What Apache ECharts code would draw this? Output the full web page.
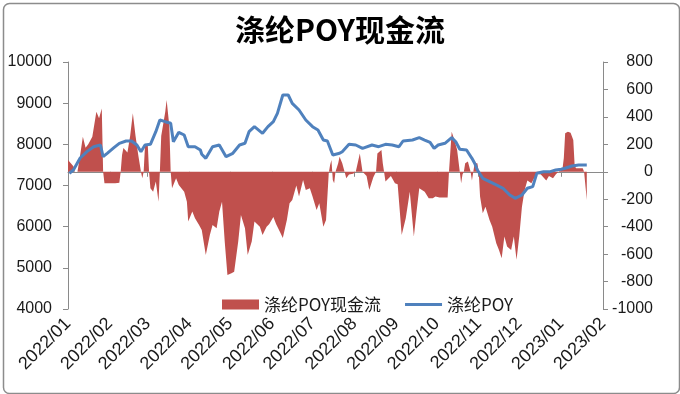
<!DOCTYPE html>
<html>
<head>
<meta charset="utf-8">
<script src="https://cdn.jsdelivr.net/npm/echarts@6/dist/echarts.min.js"></script>
<style>html,body{margin:0;padding:0;background:#fff}#c{width:680px;height:394px}</style>
</head>
<body>
<div id="c"></div>
<script>
const titleText = '涤纶POY现金流';
const seriesNames = ['涤纶POY现金流', '涤纶POY'];
const tickLabels = ['2022/01','2022/02','2022/03','2022/04','2022/05','2022/06','2022/07','2022/08','2022/09','2022/10','2022/11','2022/12','2023/01','2023/02'];

const lineDates = ['2022-01-02','2022-01-05','2022-01-10','2022-01-15','2022-01-20','2022-01-25','2022-01-27','2022-01-30',
'2022-02-04','2022-02-08','2022-02-13','2022-02-17','2022-02-21','2022-02-24','2022-02-27',
'2022-03-03','2022-03-07','2022-03-10','2022-03-14','2022-03-18','2022-03-20','2022-03-24','2022-03-28','2022-03-31',
'2022-04-05','2022-04-09','2022-04-10','2022-04-13','2022-04-18','2022-04-23','2022-04-28',
'2022-05-03','2022-05-08','2022-05-12','2022-05-15','2022-05-19','2022-05-25','2022-05-29',
'2022-06-02','2022-06-05','2022-06-09','2022-06-13','2022-06-16','2022-06-21','2022-06-26',
'2022-07-01','2022-07-05','2022-07-09','2022-07-12','2022-07-16','2022-07-21','2022-07-23','2022-07-28',
'2022-08-02','2022-08-07','2022-08-14','2022-08-19','2022-08-24','2022-08-29',
'2022-09-03','2022-09-06','2022-09-13','2022-09-18','2022-09-22','2022-09-26','2022-09-29',
'2022-10-02','2022-10-07','2022-10-12','2022-10-15','2022-10-18','2022-10-23','2022-10-27','2022-10-29','2022-10-31',
'2022-11-04','2022-11-09','2022-11-14','2022-11-19','2022-11-24','2022-11-28',
'2022-12-03','2022-12-07','2022-12-11','2022-12-14','2022-12-19','2022-12-24','2022-12-28',
'2023-01-01','2023-01-04','2023-01-09','2023-01-14','2023-01-20'];
const lineValues = [7296,7377,7668,7822,7943,7984,7700,7782,
7919,8025,8081,8081,7984,7822,7984,
8000,8307,8591,8550,8511,8064,8292,8227,7943,
7943,7862,7760,7660,7943,7984,7700,
7782,7984,8025,8307,8429,8268,8429,
8550,8753,9198,9198,8996,8834,8591,
8429,8348,8105,8081,7741,7782,7822,8000,
7984,7903,7984,7943,8000,7984,
7943,8081,8105,8162,8105,8049,7903,
7984,8025,8162,8064,7879,7862,7660,7539,7377,
7175,7094,7013,6932,6769,6689,
6769,6932,6972,7296,7336,7336,7377,
7393,7418,7474,7498,7498];

const flowDates = ['2022-01-01','2022-01-02','2022-01-05','2022-01-06','2022-01-08','2022-01-10','2022-01-12','2022-01-14','2022-01-16','2022-01-19','2022-01-22','2022-01-24','2022-01-26','2022-01-27','2022-01-28',
'2022-02-01','2022-02-05','2022-02-08','2022-02-09','2022-02-10','2022-02-11','2022-02-14','2022-02-16','2022-02-18','2022-02-20','2022-02-22','2022-02-24','2022-02-25','2022-02-26','2022-02-27',
'2022-03-01','2022-03-02','2022-03-03','2022-03-05','2022-03-07','2022-03-09','2022-03-10','2022-03-11','2022-03-14','2022-03-15','2022-03-17','2022-03-18','2022-03-19','2022-03-22','2022-03-24','2022-03-28','2022-03-30','2022-03-31',
'2022-04-03','2022-04-05','2022-04-08','2022-04-10','2022-04-13','2022-04-16','2022-04-18','2022-04-21','2022-04-23','2022-04-25','2022-04-27','2022-04-29',
'2022-05-02','2022-05-04','2022-05-07','2022-05-09','2022-05-12','2022-05-14','2022-05-17','2022-05-19','2022-05-23','2022-05-25','2022-05-28','2022-05-30',
'2022-06-02','2022-06-04','2022-06-07','2022-06-09','2022-06-12','2022-06-14','2022-06-16','2022-06-19','2022-06-21','2022-06-24','2022-06-26','2022-06-29',
'2022-07-01','2022-07-04','2022-07-06','2022-07-09','2022-07-11','2022-07-13','2022-07-14','2022-07-15','2022-07-16','2022-07-17','2022-07-18','2022-07-20','2022-07-21','2022-07-23','2022-07-26','2022-07-28','2022-07-31',
'2022-08-02','2022-08-05','2022-08-07','2022-08-10','2022-08-12','2022-08-15','2022-08-17','2022-08-18','2022-08-21','2022-08-22','2022-08-24','2022-08-28','2022-08-31',
'2022-09-02','2022-09-05','2022-09-08','2022-09-11','2022-09-14','2022-09-16','2022-09-18','2022-09-22','2022-09-25','2022-09-28','2022-09-30',
'2022-10-03','2022-10-09','2022-10-10','2022-10-12','2022-10-14','2022-10-16','2022-10-18','2022-10-19','2022-10-20','2022-10-21','2022-10-22','2022-10-24','2022-10-26','2022-10-27','2022-10-28','2022-10-29','2022-10-31',
'2022-11-01','2022-11-02','2022-11-04','2022-11-06','2022-11-09','2022-11-11','2022-11-14','2022-11-16','2022-11-18','2022-11-20','2022-11-22','2022-11-25','2022-11-27','2022-11-29',
'2022-12-01','2022-12-03','2022-12-05','2022-12-07','2022-12-10','2022-12-12','2022-12-14','2022-12-17','2022-12-21','2022-12-23','2022-12-26','2022-12-28','2022-12-30',
'2023-01-02','2023-01-03','2023-01-04','2023-01-06','2023-01-08','2023-01-10','2023-01-11','2023-01-12','2023-01-17','2023-01-18','2023-01-20'];
const flowValues = [86,80,40,0,0,122,256,175,200,256,438,390,462,0,-84,
-84,-84,-80,0,122,173,140,260,426,260,122,0,-48,0,190,
206,0,-120,-145,-70,-218,0,260,438,523,333,0,-120,-48,-96,-145,-218,-362,
-290,-339,-387,-424,-606,-460,-387,-412,-290,-218,-509,-752,
-740,-728,-509,-315,-412,-606,-509,-363,-400,-460,-400,-380,
-330,-380,-440,-482,-351,-230,-206,-100,-181,-60,-133,-120,
-181,-278,-230,-400,-351,-10,50,86,-60,-84,0,62,110,62,-48,-20,-15,
0,134,0,-30,-133,-40,0,134,158,62,-70,-30,-84,
-90,-461,-339,-145,-472,-290,-120,-145,-193,-193,-181,
-187,-187,0,292,232,160,0,-84,-20,0,62,74,0,-64,0,62,62,
0,-181,-302,-254,-351,-400,-521,-570,-630,-472,-545,-570,-472,-642,
-472,-254,-133,-64,-84,-48,-12,-20,-64,-30,-48,-20,0,
20,100,280,292,285,232,50,26,26,0,-205];

const leftAxis = {min: 4000, max: 10000, interval: 1000};
const rightAxis = {min: -1000, max: 800, interval: 200};

function toTs(s) { const p = s.split('-').map(Number); return Date.UTC(p[0], p[1] - 1, p[2]); }
const monthTicks = tickLabels.map(l => { const p = l.split('/').map(Number); return Date.UTC(p[0], p[1] - 1, 1); });

const lineData = lineDates.map((d, i) => [toTs(d), lineValues[i]]);
const flowData = flowDates.map((d, i) => [toTs(d), flowValues[i]]);

const axisGray = '#8a8a8a';
const txt = '#1a1a1a';
const numFont = '"Liberation Sans", Arial, sans-serif';
const plain = v => String(v);
const chart = echarts.init(document.getElementById('c'), null, {renderer: 'canvas'});
chart.setOption({
  animation: false,
  backgroundColor: '#fff',
  title: {
    text: titleText, left: 'center', top: 10,
    textStyle: {fontSize: 30, fontWeight: 'bold', color: '#000', fontFamily: '"Noto Sans CJK SC", sans-serif'}
  },
  graphic: [{
    type: 'rect', left: 1, top: 1, z: 100, silent: true,
    shape: {width: 676, height: 390, r: 6},
    style: {fill: 'none', stroke: '#8c8c8c', lineWidth: 1.5}
  }],
  legend: {
    left: 217, top: 291, itemWidth: 37, itemHeight: 10, itemGap: 24,
    textStyle: {fontSize: 17, color: txt, fontFamily: '"Noto Sans CJK SC", sans-serif'},
    data: [
      {name: seriesNames[0], icon: 'rect'},
      {name: seriesNames[1], icon: 'path://M0,0 H40 V3 H0 Z'}
    ]
  },
  grid: {left: 68, right: 77, top: 62, bottom: 85},
  xAxis: {
    type: 'value',
    min: monthTicks[0], max: monthTicks[monthTicks.length - 1],
    axisLine: {show: true, lineStyle: {color: axisGray}},
    axisTick: {show: true, length: 5, lineStyle: {color: axisGray}, customValues: monthTicks},
    splitLine: {show: false},
    axisLabel: {
      customValues: monthTicks, rotate: 45, margin: 12, fontSize: 18, color: txt,
      fontFamily: numFont, hideOverlap: false,
      formatter: function (v) { const i = monthTicks.indexOf(v); return i >= 0 ? tickLabels[i] : ''; }
    }
  },
  yAxis: [{
    type: 'value', min: leftAxis.min, max: leftAxis.max, interval: leftAxis.interval,
    axisLine: {show: true, lineStyle: {color: axisGray}},
    axisTick: {show: true, length: 5, lineStyle: {color: axisGray}},
    splitLine: {show: false},
    axisLabel: {fontSize: 16, color: txt, margin: 16, fontFamily: numFont, formatter: plain}
  }, {
    type: 'value', position: 'right', min: rightAxis.min, max: rightAxis.max, interval: rightAxis.interval,
    axisLine: {show: true, lineStyle: {color: axisGray}},
    axisTick: {show: true, length: 5, lineStyle: {color: axisGray}},
    splitLine: {show: false},
    axisLabel: {fontSize: 16, color: txt, margin: 50, align: 'right', fontFamily: numFont, formatter: plain}
  }],
  series: [{
    name: seriesNames[0], type: 'line', yAxisIndex: 1, data: flowData,
    showSymbol: false, symbol: 'none', color: '#C0504D',
    lineStyle: {width: 0}, itemStyle: {color: '#C0504D'},
    areaStyle: {color: '#C0504D', opacity: 1, origin: 0}, z: 2
  }, {
    name: seriesNames[1], type: 'line', yAxisIndex: 0, data: lineData,
    showSymbol: false, symbol: 'none', color: '#4F81BD',
    lineStyle: {width: 3, color: '#4F81BD'}, itemStyle: {color: '#4F81BD'}, z: 3
  }]
});
</script>
</body>
</html>
